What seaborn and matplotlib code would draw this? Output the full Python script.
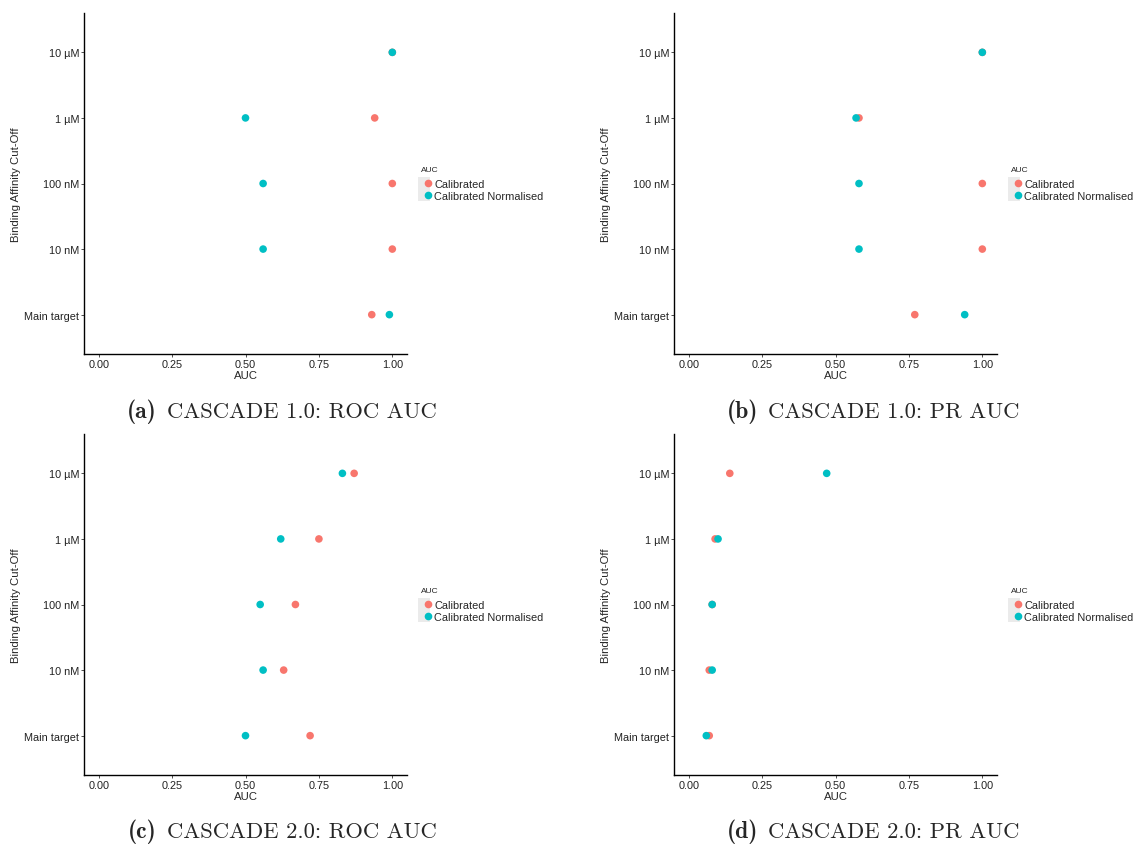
import pandas as pd
import matplotlib
matplotlib.use("Agg")
import matplotlib.pyplot as plt
import seaborn as sns
from matplotlib.lines import Line2D
from matplotlib.legend_handler import HandlerTuple

# cut-off categories, bottom to top
cutoffs = ["Main target", "10 nM", "100 nM", "1 µM", "10 µM"]
series_names = ["Calibrated", "Calibrated Normalised"]
x_ticks = [0.0, 0.25, 0.5, 0.75, 1.0]
x_tick_labels = ["0.00", "0.25", "0.50", "0.75", "1.00"]

# CASCADE 1.0
c1_roc_cal = [0.93, 1.00, 1.00, 0.94, 1.00]
c1_roc_norm = [0.99, 0.56, 0.56, 0.50, 1.00]
c1_pr_cal = [0.77, 1.00, 1.00, 0.58, 1.00]
c1_pr_norm = [0.94, 0.58, 0.58, 0.57, 1.00]

# CASCADE 2.0
c2_roc_cal = [0.72, 0.63, 0.67, 0.75, 0.87]
c2_roc_norm = [0.50, 0.56, 0.55, 0.62, 0.83]
c2_pr_cal = [0.07, 0.07, 0.08, 0.09, 0.14]
c2_pr_norm = [0.06, 0.08, 0.08, 0.10, 0.47]

captions = [("(a)", "CASCADE 1.0: ROC AUC"), ("(b)", "CASCADE 1.0: PR AUC"),
            ("(c)", "CASCADE 2.0: ROC AUC"), ("(d)", "CASCADE 2.0: PR AUC")]

palette = {"Calibrated": "#F8766D", "Calibrated Normalised": "#00BFC4"}


def make_frame(cal, norm):
    rows = []
    for name, vals in zip(series_names, [cal, norm]):
        for c, v in zip(cutoffs, vals):
            rows.append({"Cutoff": c, "AUC": v, "Series": name})
    return pd.DataFrame(rows)


def draw_panel(ax, cal, norm):
    df = make_frame(cal, norm)
    sns.scatterplot(data=df, x="AUC", y="Cutoff", hue="Series",
                    hue_order=series_names, palette=palette, s=30,
                    linewidth=0, ax=ax, legend=False, zorder=3)
    ax.set_xlim(-0.05, 1.05)
    ax.set_ylim(-0.6, 4.6)
    ax.set_xticks(x_ticks)
    ax.set_xticklabels(x_tick_labels)
    ax.set_xlabel("AUC", fontsize=8.2, labelpad=0.5)
    ax.set_ylabel("Binding Affinity Cut-Off", fontsize=8.2, labelpad=2.5)
    ax.tick_params(axis="both", bottom=True, left=True, labelsize=7.8,
                   length=2.5, width=0.6, color="#333333",
                   labelcolor="#222222", pad=1)
    for side in ["top", "right"]:
        ax.spines[side].set_visible(False)
    for side in ["left", "bottom"]:
        ax.spines[side].set_color("black")
        ax.spines[side].set_linewidth(1.0)
    ax.grid(False)

    handles = []
    for name in series_names:
        bg = Line2D([], [], marker="s", linestyle="", markersize=9,
                    markerfacecolor="#EBEBEB", markeredgewidth=0)
        dot = Line2D([], [], marker="o", linestyle="", markersize=5.5,
                     markerfacecolor=palette[name], markeredgewidth=0)
        handles.append((bg, dot))
    leg = ax.legend(handles, series_names, title="AUC", loc="center left",
                    bbox_to_anchor=(1.0, 0.5), frameon=False, fontsize=7.9,
                    title_fontsize=6,
                    handler_map={tuple: HandlerTuple(ndivide=None, pad=0)},
                    handlelength=0.85, handletextpad=0.35, labelspacing=0.15,
                    borderaxespad=0.9, alignment="left")
    # a bit more room between the title and the keys
    leg._legend_box.sep = 4
    return leg


sns.set_theme(style="white")
plt.rcParams["font.family"] = ["Liberation Sans", "DejaVu Sans"]

fig = plt.figure(figsize=(11.37, 8.45), dpi=100)
W, H = 1137, 845

panels = [
    (84, 14, c1_roc_cal, c1_roc_norm),
    (674, 14, c1_pr_cal, c1_pr_norm),
    (84, 435, c2_roc_cal, c2_roc_norm),
    (674, 435, c2_pr_cal, c2_pr_norm),
]
ax_w, ax_h = 323, 341

for left, top, cal, norm in panels:
    ax = fig.add_axes([left / W, 1 - (top + ax_h) / H, ax_w / W, ax_h / H])
    draw_panel(ax, cal, norm)

# sub-captions (bold label + roman text)
cap_pos = [(157, 412), (758, 412), (157, 832), (758, 832)]
for (lab, txt), (x, y) in zip(captions, cap_pos):
    fig.text(x / W, 1 - y / H, lab, family="cmb10", fontsize=17,
             ha="right", va="center")
    fig.text((x + 10) / W, 1 - y / H, txt, family="cmr10", fontsize=16.3,
             ha="left", va="center")

fig.savefig("out.png", dpi=100)
